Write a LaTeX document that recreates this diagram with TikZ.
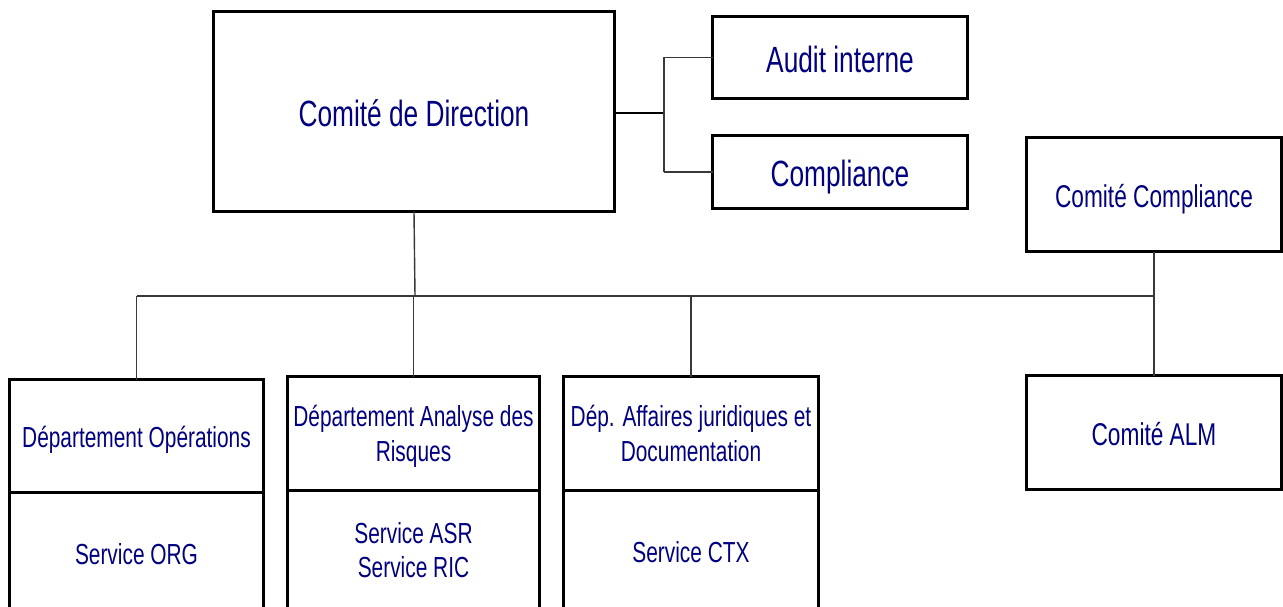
\documentclass[tikz,border=0pt]{standalone}
\usepackage{fontspec}
\setmainfont{Liberation Sans}
\newfontfamily\narrowfont[FakeStretch=0.72]{Liberation Sans}
\definecolor{txtblue}{HTML}{000080}
\definecolor{linegray}{HTML}{383838}
\begin{document}
\begin{tikzpicture}[x=1pt,y=-1pt,
  box/.style={draw=black,line width=3pt,fill=white,inner sep=0pt,outer sep=0pt,align=center,text=txtblue},
  bigtxt/.style={font=\narrowfont\fontsize{36.5}{40}\selectfont,text height=29.5pt,text depth=0pt},
  midtxt/.style={font=\narrowfont\fontsize{31.5}{36}\selectfont,text height=26pt,text depth=0pt},
  smalltxt/.style={font=\narrowfont\fontsize{29}{34.5}\selectfont,text height=24pt,text depth=0pt},
  twoline/.style={font=\narrowfont\fontsize{29}{34.5}\selectfont},
  conn/.style={draw=linegray,line width=1.4pt},
  thickconn/.style={draw=black,line width=2.6pt}]
\useasboundingbox (0,0) rectangle (1283,607);
\clip (0,0) rectangle (1283,607);
\fill[white] (0,0) rectangle (1283,607);

% top level
\node[box,bigtxt,minimum width=401pt,minimum height=200pt] (cdd) at (414,111.5) {Comité de Direction};
\node[box,bigtxt,minimum width=255pt,minimum height=82pt] (audit) at (840,57.5) {Audit interne};
\node[box,bigtxt,minimum width=255pt,minimum height=73pt] (compl) at (840,172) {Compliance};
\node[box,midtxt,minimum width=255pt,minimum height=114pt] (ccompl) at (1154,194.5) {Comité Compliance};
\node[box,midtxt,minimum width=255pt,minimum height=114pt] (alm) at (1154,432.5) {Comité ALM};

% departments
\node[box,smalltxt,minimum width=254pt,minimum height=112.5pt] (ops) at (136.5,435.75) {Département Opérations};
\node[box,smalltxt,minimum width=254pt,minimum height=120pt,anchor=north] (org) at (ops.south) {Service ORG};

\node[box,twoline,text height=62pt,minimum width=252pt,minimum height=113.5pt] (ana) at (413.5,433.25) {Département Analyse des\\Risques};
\node[box,twoline,minimum width=252pt,minimum height=120pt,anchor=north] (asr) at (ana.south) {Service ASR\\Service RIC};

\node[box,twoline,minimum width=255pt,minimum height=113.5pt] (jur) at (691,433.25) {Dép. Affaires juridiques et\\Documentation};
\node[box,smalltxt,minimum width=255pt,minimum height=120pt,anchor=north] (ctx) at (jur.south) {Service CTX};

% connectors to staff functions
\coordinate (fork) at (664,113);
\draw[thickconn] (cdd.east |- fork) -- (fork);
\draw[conn] (fork |- audit.west) -- (fork |- compl.west);
\draw[conn] (fork |- audit.west) -- (audit.west);
\draw[conn] (fork |- compl.west) -- (compl.west);

% bus
\coordinate (bus) at (415,296);
\draw[conn] (cdd.south) -- (bus);
\draw[conn] (ops.north |- bus) -- (alm.north |- bus);
\draw[conn] (ops.north |- bus) -- (ops.north);
\draw[conn] (ana.north) -- (ana.north |- bus);
\draw[conn] (jur.north) -- (jur.north |- bus);
\draw[conn] (ccompl.south) -- (alm.north);
\end{tikzpicture}
\end{document}
